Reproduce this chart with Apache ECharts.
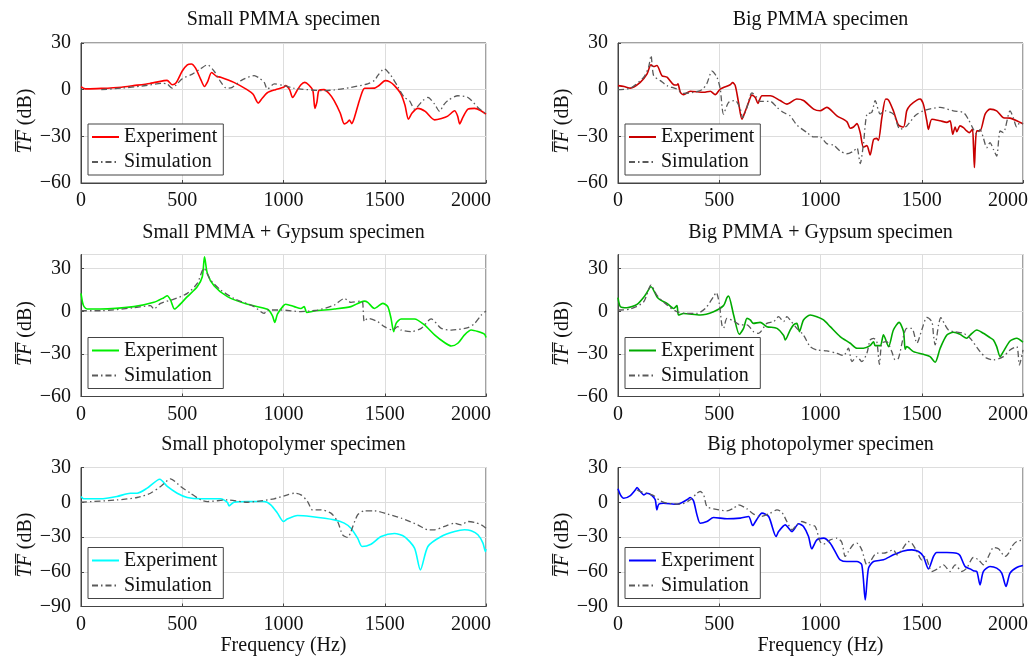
<!DOCTYPE html>
<html>
<head>
<meta charset="utf-8">
<script src="https://cdn.jsdelivr.net/npm/echarts@6/dist/echarts.min.js"></script>
<style>
html,body{margin:0;padding:0;background:#fff;}
#chart{width:1031px;height:663px;}
</style>
</head>
<body>
<div id="chart"></div>
<script>
// ---------- DATA ----------
var panelTitles = ['Small PMMA specimen', 'Big PMMA specimen',
  'Small PMMA + Gypsum specimen', 'Big PMMA + Gypsum specimen',
  'Small photopolymer specimen', 'Big photopolymer specimen'];
var seriesNames = ['Experiment', 'Simulation'];
var xTicks = [0, 500, 1000, 1500, 2000];
var yTicksRow1 = [-60, -30, 0, 30];
var yTicksRow2 = [-60, -30, 0, 30];
var yTicksRow3 = [-90, -60, -30, 0, 30];

var smallPmmaExp = [[0,2],[15,0.8],[30,0.5],[100,0.8],[200,1.6],[260,2.6],[340,4],[410,5.8],[425,6],[450,3.2],[470,4.5],[500,12],[525,16],[545,16.5],[565,14],[590,7],[610,2],[625,5],[645,11],[670,8.5],[690,8],[755,4.7],[820,0],[850,-3],[875,-8.6],[895,-5.5],[920,-2],[960,0],[1000,1.5],[1010,2.6],[1030,0],[1045,-5],[1065,-1],[1085,3],[1105,4.7],[1125,3],[1145,-0.6],[1155,-12],[1165,-8],[1175,-0.5],[1200,0],[1225,-2.5],[1250,-7],[1280,-15],[1300,-22],[1315,-21],[1325,-19.5],[1337,-21.8],[1350,-18],[1370,-9],[1390,-1],[1400,0.9],[1450,1],[1470,2.5],[1503,5.8],[1525,5],[1548,2.6],[1580,-2.8],[1600,-10],[1617,-19],[1635,-15],[1663,-12],[1700,-14],[1746,-19.4],[1780,-18.5],[1811,-17],[1845,-13.6],[1860,-17],[1870,-22],[1885,-18],[1911,-12.5],[1944,-12],[1975,-13.5],[2000,-15.7]];
var smallPmmaSim = [[100,0],[200,1],[300,2.3],[400,4],[425,3.7],[450,1],[470,3],[500,7],[550,10],[590,13.4],[625,16],[657,12],[690,5],[710,1.5],[723,1],[747,1.5],[790,5.8],[855,9],[880,7.5],[905,4.7],[920,0.4],[955,3.7],[1003,2.6],[1050,1],[1086,0.4],[1185,-0.6],[1250,-0.2],[1333,1.5],[1416,3.7],[1450,6],[1465,9],[1497,13.4],[1531,9],[1564,2],[1597,-5],[1622,-7],[1647,-12.5],[1688,-7],[1713,-5],[1746,-9.3],[1771,-14],[1790,-10],[1811,-7],[1861,-3.9],[1911,-5],[1960,-11.4],[2000,-15.7]];

var bigPmmaExp = [[0,2.6],[30,2],[61,1],[110,4.7],[143,10],[163,16],[176,14.9],[192,15.5],[217,9],[242,8],[275,3.2],[291,3],[296,3.7],[308,-1.7],[324,-3.2],[357,-1],[423,-1.7],[456,-1],[480,-3.2],[505,0.4],[554,3.2],[566,4.5],[579,2.6],[595,-8],[612,-19],[628,-14],[645,-8.2],[661,-3.5],[678,-5],[691,-8.8],[711,-3.9],[752,-3.9],[801,-7],[834,-9.3],[883,-6],[916,-7],[966,-12.5],[998,-13.6],[1031,-11.4],[1081,-16.8],[1130,-20.5],[1147,-24.8],[1163,-24],[1180,-21.8],[1196,-27.6],[1212,-37],[1229,-36],[1245,-42],[1262,-32],[1278,-31.3],[1286,-32.6],[1303,-18],[1322,-6],[1336,-6.7],[1360,-13.6],[1385,-22.7],[1410,-24],[1426,-13.6],[1443,-10],[1476,-6.7],[1492,-6],[1508,-9.3],[1525,-20],[1533,-25.5],[1550,-19],[1591,-20],[1624,-21],[1640,-20],[1653,-28.7],[1665,-24],[1673,-27],[1689,-23.3],[1706,-24.4],[1722,-26.5],[1735,-27.6],[1750,-25.5],[1755,-35],[1760,-50],[1765,-35],[1772,-26.5],[1788,-26.5],[1813,-15.7],[1837,-12.5],[1870,-13.6],[1903,-18],[1936,-18.3],[1969,-20],[2000,-22]];
var bigPmmaSim = [[0,0],[61,1],[127,8],[151,14.5],[163,22],[176,9],[209,5.8],[242,2.6],[291,0.4],[324,-2.4],[373,-1.7],[415,0],[439,4],[464,11.9],[489,8],[505,0.4],[521,-15.7],[546,-8.2],[579,-7],[604,-12.5],[615,-18],[637,-11.4],[661,-2],[686,-5],[702,-7.5],[752,-7.5],[785,-11.4],[818,-14.7],[850,-16.8],[883,-22.7],[933,-27.6],[966,-30.4],[998,-30.4],[1031,-34.7],[1064,-35.6],[1097,-39.5],[1130,-41.2],[1163,-39.5],[1180,-37.3],[1196,-47.5],[1212,-35],[1229,-15.7],[1253,-14.7],[1270,-7],[1295,-15.7],[1319,-13.6],[1360,-15.7],[1393,-25.5],[1426,-23.3],[1467,-16.8],[1508,-13.6],[1591,-11.4],[1656,-13.6],[1706,-14.7],[1730,-19],[1755,-25.5],[1772,-28.7],[1788,-25.5],[1804,-30.9],[1821,-37.3],[1837,-34],[1854,-38.4],[1870,-42.7],[1887,-26.5],[1903,-27.6],[1936,-13.6],[1952,-18],[1969,-24],[1985,-21.2],[2000,-22]];

var smallGypExp = [[0,12.6],[8,6],[15,3.3],[30,1.6],[96,1.6],[261,3.3],[360,6.3],[409,9.6],[426,11],[442,8],[462,1.6],[483,4],[525,10.3],[574,17.3],[599,24.3],[610,38.4],[624,26.7],[657,18],[723,10.3],[822,4.9],[921,1.4],[945,-3],[957,-7.8],[970,-2],[1000,4],[1011,5],[1053,3.3],[1086,2],[1102,3.3],[1115,-0.8],[1152,0.2],[1251,1.6],[1333,3.3],[1399,7.2],[1416,6.3],[1449,2],[1465,3.3],[1490,5.6],[1515,3.3],[1531,-5],[1544,-14.3],[1556,-8.5],[1581,-5.4],[1647,-5.4],[1696,-9.6],[1746,-16.6],[1795,-22],[1828,-24.4],[1861,-22.5],[1894,-16.6],[1927,-13.2],[1960,-14.3],[1993,-16.2],[2000,-18.5]];
var smallGypSim = [[0,0.4],[96,0.4],[261,2.5],[343,4],[360,1.6],[393,5.6],[459,8.6],[525,12.6],[574,19.6],[607,30.2],[640,22],[690,15],[756,9],[855,3.3],[904,-1.5],[921,0.9],[987,0.9],[1086,-0.2],[1168,0.9],[1251,4.4],[1300,9],[1333,6.3],[1383,7.2],[1391,6.3],[1399,-7.3],[1416,-5],[1465,-7.3],[1498,-10.8],[1539,-13.2],[1564,-10.8],[1581,-13.2],[1630,-14.3],[1680,-12],[1729,-5.4],[1779,-12],[1828,-13.2],[1911,-11.5],[1944,-8.5],[1977,-2.6],[2000,0.2]];

var bigGypExp = [[0,9.6],[12,3.2],[44,2.5],[94,4.9],[135,11.4],[163,17.3],[192,10.3],[209,8],[242,5.6],[275,2],[291,4],[299,-2.6],[324,-1.5],[406,-2.6],[472,-0.3],[521,4],[538,9.6],[546,10.7],[571,-2.6],[599,-16.2],[620,-12],[637,-5],[653,-6.1],[669,-8.5],[702,-7.8],[735,-10.8],[785,-12],[818,-17.1],[826,-20.2],[850,-13.2],[867,-9.6],[883,-8.5],[896,-14.3],[916,-6.1],[949,-2.6],[982,-3.8],[1015,-6.1],[1048,-10.8],[1097,-17.8],[1147,-22.5],[1180,-26],[1212,-26],[1245,-24.2],[1262,-21.4],[1270,-24.2],[1295,-24.2],[1311,-16.6],[1336,-24.9],[1360,-13.2],[1388,-7.8],[1410,-14.3],[1418,-26.7],[1426,-24.9],[1459,-28.4],[1508,-30.3],[1541,-31.9],[1566,-35.9],[1591,-26],[1624,-16.7],[1656,-14.8],[1689,-16.2],[1722,-19],[1739,-16.7],[1772,-13.2],[1804,-15.5],[1837,-18.5],[1854,-20.2],[1870,-24.9],[1887,-31.9],[1903,-28.4],[1936,-20.9],[1969,-19],[2000,-21.8]];
var bigGypSim = [[0,0.9],[61,1.6],[127,6.7],[163,18.5],[192,11.4],[242,4.4],[291,-0.3],[340,-1.5],[390,-1.5],[431,2],[472,10.3],[485,13.3],[500,5.6],[513,-9.6],[521,-12],[538,-5],[571,-6.8],[604,-9.6],[637,-9.6],[669,-14.3],[694,-15.5],[735,-8.5],[768,-7.3],[793,-3.8],[818,-7.3],[834,-3.8],[850,-6.1],[883,-12],[916,-16.7],[949,-24.9],[982,-27.2],[1031,-27.9],[1081,-29.6],[1114,-31.2],[1138,-26],[1155,-35.4],[1180,-31.9],[1204,-35.4],[1229,-29.6],[1245,-20.2],[1262,-19],[1278,-21.4],[1291,-37.3],[1303,-22.5],[1327,-21.4],[1352,-28.4],[1369,-34.2],[1385,-33],[1426,-12],[1451,-12],[1476,-22.5],[1500,-13.2],[1525,-4.3],[1550,-7.3],[1558,-16.7],[1566,-23.7],[1583,-9.6],[1594,-4.5],[1615,-9.6],[1632,-13.2],[1656,-14.3],[1706,-15.5],[1739,-19],[1788,-28.4],[1821,-33],[1854,-34.2],[1903,-31.9],[1936,-27.2],[1969,-24.9],[1982,-37.8],[2000,-27.2]];

var smallPhotoExp = [[0,5],[13,3],[96,3],[178,5],[244,7.8],[277,7.8],[327,12.2],[389,19.9],[426,13.6],[475,7.8],[525,4.1],[591,3],[690,3],[723,-0.2],[731,-3.1],[756,0.1],[822,0.6],[904,0.6],[937,-2.2],[970,-9.4],[1000,-16.6],[1020,-14.3],[1069,-11.4],[1135,-12.3],[1251,-15.2],[1300,-18],[1333,-22.4],[1366,-31],[1388,-38.2],[1432,-36.2],[1482,-29.6],[1548,-27],[1597,-29.6],[1647,-39.6],[1676,-58.4],[1713,-38.2],[1779,-29.6],[1845,-25.3],[1894,-23.8],[1927,-24.7],[1960,-28.1],[1985,-35.3],[1997,-42.5],[2000,-40.2]];
var smallPhotoSim = [[0,0],[178,2],[277,4.1],[343,7.8],[393,13.6],[442,20.2],[492,13.6],[541,7.8],[591,2],[624,0.6],[723,2],[822,0],[888,1.2],[954,3],[1020,6.4],[1053,7.8],[1086,6.4],[1119,0.6],[1143,-6.6],[1185,-6.6],[1234,-9.4],[1267,-16.6],[1292,-28.1],[1317,-30.4],[1333,-25.3],[1366,-10.9],[1399,-7.4],[1449,-7.4],[1515,-10.3],[1581,-13.7],[1663,-19.5],[1713,-23.8],[1746,-23.8],[1795,-20.9],[1845,-18.1],[1877,-19.5],[1911,-16.6],[1944,-17.5],[1977,-19.5],[2000,-22.4]];

var bigPhotoExp = [[0,11.6],[12,6.4],[28,3.5],[61,5.8],[86,10.7],[94,12.7],[110,9.3],[127,6.4],[143,7.8],[168,5.8],[184,2.1],[192,-6.6],[201,-1.7],[225,-0.8],[291,-1.7],[340,2.1],[357,4.1],[373,1.2],[390,-10.9],[406,-18.1],[439,-16.6],[472,-13.2],[538,-14.3],[604,-13.7],[645,-12.3],[665,-20.1],[686,-14.6],[711,-9.4],[744,-12.3],[781,-29.6],[793,-25.3],[826,-19.5],[859,-25.3],[892,-18.6],[916,-20.9],[941,-29.6],[957,-40.2],[982,-32.5],[1015,-31],[1048,-35.3],[1081,-45.4],[1097,-49.7],[1130,-51.2],[1180,-51.2],[1204,-54],[1221,-84.3],[1237,-56.9],[1262,-51.2],[1311,-49.7],[1360,-45.4],[1410,-42],[1451,-41.1],[1484,-42.5],[1508,-46.8],[1533,-57.5],[1558,-46.8],[1574,-43.4],[1624,-43.4],[1673,-44],[1689,-46],[1714,-55.5],[1739,-57.5],[1755,-59.2],[1772,-59.8],[1788,-71.3],[1804,-59.8],[1837,-55.5],[1870,-56.9],[1895,-61.2],[1916,-72.7],[1936,-61.2],[1969,-56.3],[2000,-54.6]];
var bigPhotoSim = [[94,10.7],[102,9.8],[143,7.8],[176,5.8],[209,1.2],[242,-0.8],[308,-1.7],[357,2.1],[390,7.8],[406,9.3],[423,6.4],[439,-3.7],[472,-5.7],[538,-7.4],[571,-5.1],[595,-2.2],[637,-5.7],[670,-10.3],[702,-12.3],[752,-9.4],[785,-6.6],[809,-8.6],[834,-16.6],[859,-23.8],[883,-19.5],[908,-16.6],[949,-19.5],[974,-20.9],[998,-33.9],[1015,-36.2],[1048,-32.5],[1081,-31],[1105,-34.5],[1122,-46.8],[1138,-42.5],[1163,-36.2],[1180,-35.3],[1204,-41.1],[1229,-54],[1245,-51.2],[1278,-44],[1311,-44],[1360,-41.1],[1377,-45.4],[1402,-41.1],[1434,-33.9],[1451,-35.3],[1476,-42.5],[1500,-49.7],[1517,-46.8],[1550,-59.8],[1583,-56.9],[1607,-54],[1640,-59.8],[1665,-54],[1698,-59.8],[1722,-56.9],[1755,-47.7],[1780,-49.7],[1804,-54],[1837,-44],[1854,-39.1],[1879,-40.2],[1912,-46.8],[1929,-44],[1945,-38.2],[1969,-33.9],[2000,-32.5]];

// ---------- BUILD ----------
(function () {
  var FONT = '"Liberation Serif", "Times New Roman", serif';
  var colLeft = [81, 618];
  var plotW = 405;
  var rowTop = [43, 254.5, 467.5];
  var rowH = [140, 142, 139];
  var rowYRange = [[yTicksRow1[0], 30], [yTicksRow2[0], 40], [yTicksRow3[0], 30]];
  var titleTop = [10, 223, 435];
  var expColors = ['#ff0000', '#c80000', '#00ee00', '#00aa00', '#00ffff', '#0000ff'];
  var simColor = '#5a5a5a';
  var expData = [smallPmmaExp, bigPmmaExp, smallGypExp, bigGypExp, smallPhotoExp, bigPhotoExp];
  var simData = [smallPmmaSim, bigPmmaSim, smallGypSim, bigGypSim, smallPhotoSim, bigPhotoSim];

  var grids = [], xAxes = [], yAxes = [], series = [], legends = [], titles = [];
  function fmtNum(v) { return String(v).replace('-', '\u2212'); }

  for (var i = 0; i < 6; i++) {
    var r = Math.floor(i / 2), c = i % 2;
    var gL = colLeft[c], gT = rowTop[r], gH = rowH[r];
    grids.push({ left: gL, top: gT, width: plotW, height: gH, show: true,
      borderColor: '#444', borderWidth: 1 });
    titles.push({ text: panelTitles[i], left: gL + plotW / 2, top: titleTop[r], textAlign: 'center',
      padding: 0, textStyle: { fontFamily: FONT, fontSize: 20, fontWeight: 'normal', color: '#111' } });
    xAxes.push({ gridIndex: i, type: 'value', min: xTicks[0], max: xTicks[xTicks.length - 1], interval: 500,
      name: r === 2 ? 'Frequency (Hz)' : '', nameLocation: 'middle', nameGap: 29,
      nameTextStyle: { fontFamily: FONT, fontSize: 20, color: '#111' },
      axisLine: { show: true, onZero: false, lineStyle: { color: '#444', width: 1 } },
      axisTick: { show: true, inside: true, length: 3, lineStyle: { color: '#444' } },
      splitLine: { show: true, lineStyle: { color: '#dddddd', width: 1 } },
      axisLabel: { margin: 8, fontFamily: FONT, fontSize: 20, color: '#111',
        formatter: function (v) { return v === 2000 ? '{m|2000}' : fmtNum(v); },
        rich: { m: { fontFamily: FONT, fontSize: 20, color: '#111', padding: [0, 30, 0, 0] } } } });
    yAxes.push({ gridIndex: i, type: 'value', min: rowYRange[r][0], max: rowYRange[r][1], interval: 30,
      name: '{it|T\u0305F\u0305} {n|(dB)}', nameLocation: 'middle', nameGap: 32, nameRotate: 90,
      nameTextStyle: { fontFamily: FONT, fontSize: 20, color: '#111', padding: [0, 16, 0, 0],
        rich: { it: { fontFamily: FONT, fontSize: 20, fontStyle: 'italic', color: '#111' },
                n: { fontFamily: FONT, fontSize: 20, color: '#111' } } },
      axisLine: { show: true, lineStyle: { color: '#444', width: 1 } },
      axisTick: { show: true, inside: true, length: 3, lineStyle: { color: '#444' } },
      splitLine: { show: true, lineStyle: { color: '#dddddd', width: 1 } },
      axisLabel: { margin: 10, fontFamily: FONT, fontSize: 20, color: '#111', showMaxLabel: r !== 1,
        formatter: fmtNum } });
    var expName = seriesNames[0] + '|' + i, simName = seriesNames[1] + '|' + i;
    series.push({ name: expName, type: 'line', xAxisIndex: i, yAxisIndex: i, data: expData[i],
      showSymbol: false, symbol: 'none', smooth: 0.25, z: 3,
      lineStyle: { color: expColors[i], width: 1.6 }, itemStyle: { color: expColors[i] } });
    series.push({ name: simName, type: 'line', xAxisIndex: i, yAxisIndex: i, data: simData[i],
      showSymbol: false, symbol: 'none', smooth: 0.25, z: 4,
      lineStyle: { color: simColor, width: 1.3, type: [6, 3, 1.5, 3] }, itemStyle: { color: simColor } });
    legends.push({ data: [expName, simName], orient: 'vertical',
      left: gL + 7, top: gT + gH - 59,
      backgroundColor: '#fff', borderColor: '#444', borderWidth: 1, borderRadius: 0,
      padding: [2, 6, 2, 3], itemGap: 3, itemWidth: 27, itemHeight: 14, selectedMode: false,
      itemStyle: { opacity: 0, borderWidth: 0 },
      formatter: function (n) { return n.split('|')[0]; },
      textStyle: { fontFamily: FONT, fontSize: 20, color: '#111', lineHeight: 22 } });
  }

  var chart = echarts.init(document.getElementById('chart'), null, { renderer: 'canvas' });
  chart.setOption({
    animation: false,
    backgroundColor: '#fff',
    title: titles,
    grid: grids,
    xAxis: xAxes,
    yAxis: yAxes,
    legend: legends,
    series: series
  });
})();
</script>
</body>
</html>
